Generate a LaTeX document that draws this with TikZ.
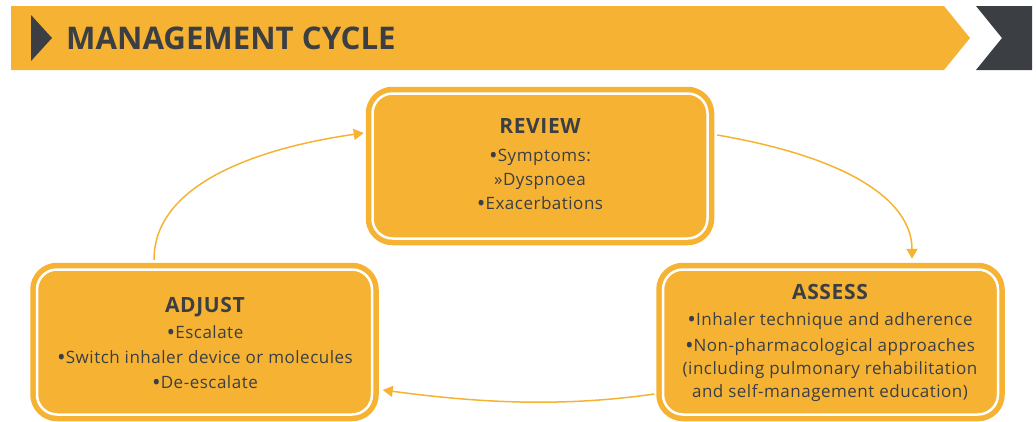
\documentclass[tikz,border=0pt]{standalone}
\usepackage{fontspec}
\setmainfont{Open Sans}
\usetikzlibrary{arrows.meta}
\definecolor{ylw}{HTML}{F6B333}
\definecolor{drk}{HTML}{3B3F43}
\newcommand\mybul{\raisebox{-0.17em}{\scalebox{1.35}{•}}}
\tikzset{
  x=1pt, y=-1pt,
  cyclebox/.style={draw=ylw, fill=ylw, line width=5.5pt, double=white, double distance=2.5pt,
    rounded corners=20pt, minimum width=335pt, minimum height=145pt, inner sep=0pt},
  boxtitle/.style={anchor=base, text=drk, font=\fontsize{21}{25}\selectfont\bfseries\addfontfeatures{LetterSpace=3}, inner sep=0pt},
  boxline/.style={anchor=base, text=drk, font=\fontsize{17}{25}\selectfont\addfontfeatures{LetterSpace=3}, inner sep=0pt},
  conn/.style={draw=ylw, line width=1.5pt, -{Triangle[length=10pt,width=11pt]}},
}
\begin{document}
\begin{tikzpicture}
\useasboundingbox (0,0) rectangle (1036,421);
% banner
\fill[ylw] (11,6) -- (944,6) -- (970,38) -- (944,70) -- (11,70) -- cycle;
\fill[drk] (976,6) -- (1032,6) -- (1032,70) -- (976,70) -- (1002,38) -- cycle;
\fill[drk] (31,15) -- (52,38) -- (31,61) -- cycle;
\node[anchor=base west, text=drk, font=\fontsize{31.2}{40}\selectfont\bfseries, inner sep=0pt] (title) at (66,49) {MANAGEMENT CYCLE};
% boxes
\node[cyclebox] (review) at (540,166) {};
\node[cyclebox] (adjust) at (204.5,342) {};
\node[cyclebox] (assess) at (830.5,342) {};
% review text
\node[boxtitle] (r0) at (540,133) {REVIEW};
\node[boxline] (r1) at (540,161) {\mybul Symptoms:};
\node[boxline] (r2) at (540,185) {»Dyspnoea};
\node[boxline] (r3) at (540,209) {\mybul Exacerbations};
% adjust text
\node[boxtitle] (a0) at (205,312) {ADJUST};
\node[boxline] (a1) at (205,338) {\mybul Escalate};
\node[boxline] (a2) at (205,363) {\mybul Switch inhaler device or molecules};
\node[boxline] (a3) at (205,388) {\mybul De-escalate};
% assess text
\node[boxtitle] (s0) at (830,299) {ASSESS};
\node[boxline] (s1) at (830,325) {\mybul Inhaler technique and adherence};
\node[boxline] (s2) at (830,351) {\mybul Non-pharmacological approaches};
\node[boxline] (s3) at (830,374) {(including pulmonary rehabilitation};
\node[boxline] (s4) at (830,397) {and self-management education)};
% connectors
\draw[conn] ([xshift=7pt,yshift=31pt]review.east) .. controls +(145,25) and +(0,-52) .. ([xshift=81.5pt,yshift=8pt]assess.north);
\draw[conn] ([xshift=-6pt,yshift=-52pt]assess.west) .. controls +(-97,14) and +(90,12) .. ([xshift=8pt,yshift=-48pt]adjust.east);
\draw[conn] ([xshift=-50.5pt,yshift=7pt]adjust.north) .. controls +(0,-83) and +(-86,12) .. ([xshift=-6pt,yshift=33pt]review.west);
\end{tikzpicture}
\end{document}
